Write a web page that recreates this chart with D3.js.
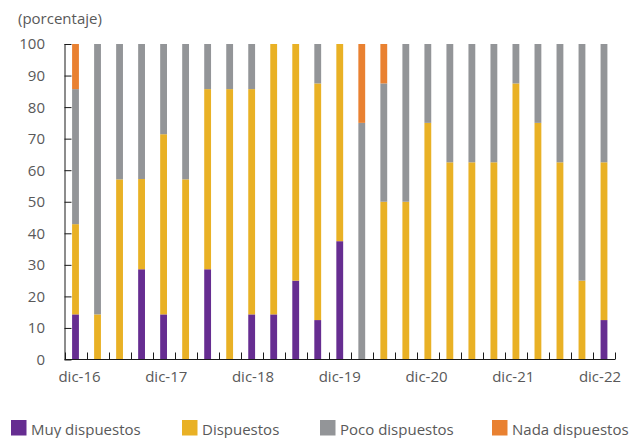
<!DOCTYPE html>
<html lang="es">
<head>
<meta charset="utf-8">
<script src="https://cdn.jsdelivr.net/npm/d3@7"></script>
<style>
  html, body { margin: 0; padding: 0; background: #ffffff; }
  svg { display: block; font-family: "Open Sans", "Noto Sans", sans-serif; }
</style>
</head>
<body>
<svg id="chart" width="633" height="438"></svg>
<script>
// Quarterly survey periods (December 2016 to December 2022)
const categories = [
  "dic-16", "mar-17", "jun-17", "sep-17",
  "dic-17", "mar-18", "jun-18", "sep-18",
  "dic-18", "mar-19", "jun-19", "sep-19",
  "dic-19", "mar-20", "jun-20", "sep-20",
  "dic-20", "mar-21", "jun-21", "sep-21",
  "dic-21", "mar-22", "jun-22", "sep-22",
  "dic-22"
];

// Share of respondents in each group (percent)
const muyDispuestos = [
  14.3, 0, 0, 28.6,
  14.3, 0, 28.6, 0,
  14.3, 14.3, 25, 12.5,
  37.5, 0, 0, 0,
  0, 0, 0, 0,
  0, 0, 0, 0,
  12.5
];
const dispuestos = [
  28.6, 14.3, 57.1, 28.6,
  57.1, 57.1, 57.1, 85.7,
  71.4, 85.7, 75, 75,
  62.5, 0, 50, 50,
  75, 62.5, 62.5, 62.5,
  87.5, 75, 62.5, 25,
  50
];
const pocoDispuestos = [
  42.8, 85.7, 42.9, 42.8,
  28.6, 42.9, 14.3, 14.3,
  14.3, 0, 0, 12.5,
  0, 75, 37.5, 50,
  25, 37.5, 37.5, 37.5,
  12.5, 25, 37.5, 75,
  37.5
];
const nadaDispuestos = [
  14.3, 0, 0, 0,
  0, 0, 0, 0,
  0, 0, 0, 0,
  0, 25, 12.5, 0,
  0, 0, 0, 0,
  0, 0, 0, 0,
  0
];

const seriesNames = ["Muy dispuestos", "Dispuestos", "Poco dispuestos", "Nada dispuestos"];
const seriesColors = ["#662d91", "#e9b125", "#939598", "#e98131"];
const yTicks = [0, 10, 20, 30, 40, 50, 60, 70, 80, 90, 100];
const xTickLabels = ["dic-16", "dic-17", "dic-18", "dic-19", "dic-20", "dic-21", "dic-22"];
const unitLabel = "(porcentaje)";

// Table for the stack layout
const table = categories.map((c, i) => ({
  period: c,
  "Muy dispuestos": muyDispuestos[i],
  "Dispuestos": dispuestos[i],
  "Poco dispuestos": pocoDispuestos[i],
  "Nada dispuestos": nadaDispuestos[i]
}));

const svg = d3.select("#chart");
const plot = { left: 64.5, right: 615, top: 44, bottom: 359.5 };
const axisColor = "#1a1a1a";
const textColor = "#595959";

const x = d3.scaleBand()
  .domain(categories)
  .range([plot.left, plot.right])
  .padding(0);
const barW = x.step() * 0.31;

const y = d3.scaleLinear()
  .domain([0, 100])
  .range([plot.bottom, plot.top]);

const color = d3.scaleOrdinal().domain(seriesNames).range(seriesColors);

// Stacked bars
const stacked = d3.stack().keys(seriesNames)(table);
svg.append("g")
  .selectAll("g")
  .data(stacked)
  .join("g")
  .attr("fill", d => color(d.key))
  .selectAll("rect")
  .data(d => d.filter(s => s[1] - s[0] > 0))
  .join("rect")
  .attr("x", d => x(d.data.period) + (x.step() - barW) / 2)
  .attr("width", barW)
  .attr("y", d => y(d[1]))
  .attr("height", d => y(d[0]) - y(d[1]));

// Y axis: ticks point into the plot
const yAxis = svg.append("g")
  .attr("transform", `translate(${plot.left},0)`)
  .call(d3.axisRight(y).tickValues(yTicks).tickSize(7).tickFormat(""));
yAxis.select(".domain").attr("stroke", axisColor).attr("d", `M0.5,${y(100)}V${y(0)}`);
yAxis.selectAll(".tick line").attr("stroke", axisColor);

svg.append("g")
  .selectAll("text")
  .data(yTicks)
  .join("text")
  .attr("x", 45)
  .attr("y", d => y(d))
  .attr("dy", "0.36em")
  .attr("text-anchor", "end")
  .attr("font-size", 15)
  .attr("fill", textColor)
  .text(d => d);

// X axis: tick marks on category boundaries, pointing up
const boundaries = categories.map(c => x(c)).concat([plot.right]);
const xAxis = svg.append("g");
xAxis.append("line")
  .attr("x1", plot.left).attr("x2", plot.right)
  .attr("y1", plot.bottom).attr("y2", plot.bottom)
  .attr("stroke", axisColor);
xAxis.selectAll("line.tick")
  .data(boundaries)
  .join("line")
  .attr("class", "tick")
  .attr("x1", d => Math.round(d) + 0.5).attr("x2", d => Math.round(d) + 0.5)
  .attr("y1", plot.bottom).attr("y2", plot.bottom - 7)
  .attr("stroke", axisColor);

// Year labels, spread across the first and last December
const first = x(xTickLabels[0]) + x.step() / 2;
const last = x(xTickLabels[xTickLabels.length - 1]) + x.step() / 2;
const labelX = d3.scalePoint().domain(xTickLabels).range([first + 4, last - 4]);
svg.append("g")
  .selectAll("text")
  .data(xTickLabels)
  .join("text")
  .attr("x", d => labelX(d))
  .attr("y", 381.5)
  .attr("text-anchor", "middle")
  .attr("font-size", 15)
  .attr("fill", textColor)
  .text(d => d);

// Unit label
svg.append("text")
  .attr("x", 18)
  .attr("y", 24)
  .attr("font-size", 15)
  .attr("fill", textColor)
  .text(unitLabel);

// Legend
const legendX = [11, 182, 320, 492];
const legend = svg.append("g")
  .selectAll("g")
  .data(seriesNames)
  .join("g")
  .attr("transform", (d, i) => `translate(${legendX[i]},420)`);
legend.append("rect")
  .attr("width", 15.5)
  .attr("height", 15.5)
  .attr("fill", d => color(d));
legend.append("text")
  .attr("x", 20)
  .attr("y", 14.5)
  .attr("font-size", 15)
  .attr("fill", textColor)
  .text(d => d);
</script>
</body>
</html>
